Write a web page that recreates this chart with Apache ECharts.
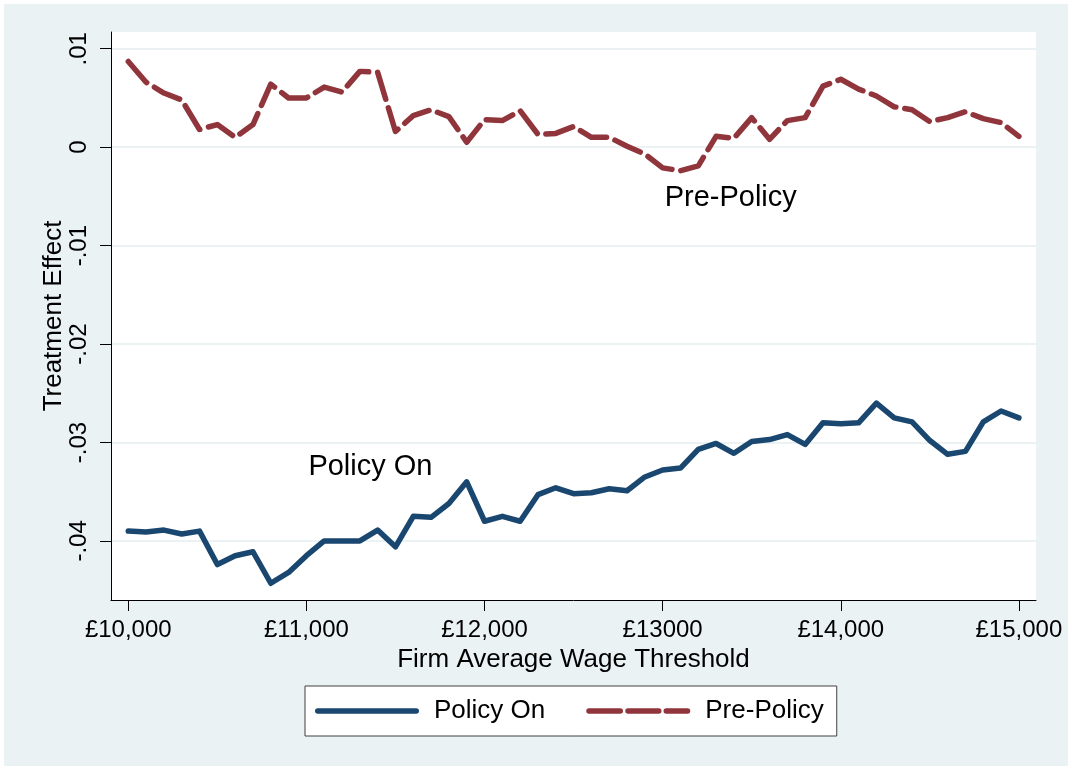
<!DOCTYPE html>
<html>
<head>
<meta charset="utf-8">
<title>Treatment Effect by Firm Average Wage Threshold</title>
<script src="https://cdn.jsdelivr.net/npm/echarts@6/dist/echarts.min.js"></script>
<style>
    html, body {
        margin: 0;
        padding: 0;
        background: #ffffff;
    }
    #chart {
        position: absolute;
        left: 4px;
        top: 4px;
        width: 1064px;
        height: 762px;
    }
</style>
</head>
<body>
<div id="chart"></div>
<script>
    // wage thresholds (x)
    var thresholds = [10000, 10100, 10200, 10300, 10400, 10500, 10600, 10700, 10800, 10900,
        11000, 11100, 11200, 11300, 11400, 11500, 11600, 11700, 11800, 11900,
        12000, 12100, 12200, 12300, 12400, 12500, 12600, 12700, 12800, 12900,
        13000, 13100, 13200, 13300, 13400, 13500, 13600, 13700, 13800, 13900,
        14000, 14100, 14200, 14300, 14400, 14500, 14600, 14700, 14800, 14900, 15000];

    var policyOn = [-0.0390, -0.0391, -0.0389, -0.0393, -0.0390, -0.0424, -0.0415, -0.0411, -0.0443, -0.0432,
        -0.0415, -0.0400, -0.0400, -0.0400, -0.0389, -0.0406, -0.0375, -0.0376, -0.0362, -0.0340,
        -0.0380, -0.0375, -0.0380, -0.0353, -0.0346, -0.0352, -0.0351, -0.0347, -0.0349, -0.0335,
        -0.0328, -0.0326, -0.0307, -0.0301, -0.0311, -0.0299, -0.0297, -0.0292, -0.0302, -0.0280,
        -0.0281, -0.0280, -0.0260, -0.0275, -0.0279, -0.0298, -0.0312, -0.0309, -0.0279, -0.0268, -0.0275];

    var prePolicy = [0.0087, 0.0066, 0.0055, 0.0048, 0.0018, 0.0023, 0.0010, 0.0023, 0.0064, 0.0050,
        0.0050, 0.0061, 0.0056, 0.0077, 0.0076, 0.0016, 0.0032, 0.0038, 0.0031, 0.0005,
        0.0028, 0.0027, 0.0037, 0.0013, 0.0014, 0.0021, 0.0010, 0.0010, 0.0001, -0.0007,
        -0.0021, -0.0024, -0.0019, 0.0011, 0.0009, 0.0030, 0.0008, 0.0027, 0.0030, 0.0062,
        0.0069, 0.0059, 0.0052, 0.0041, 0.0038, 0.0026, 0.0030, 0.0036, 0.0029, 0.0025, 0.0011];

    // tick values and labels
    var xTicks = [10000, 11000, 12000, 13000, 14000, 15000];
    var xTickLabels = ["£10,000", "£11,000", "£12,000", "£13000", "£14,000", "£15,000"];
    var yTicks = [-0.04, -0.03, -0.02, -0.01, 0, 0.01];
    var yTickLabels = ["-.04", "-.03", "-.02", "-.01", "0", ".01"];

    // text placed in the plot, in data coordinates
    var notes = [
        { text: "Policy On", x: 11000, y: -0.0325 },
        { text: "Pre-Policy", x: 13000, y: -0.0052 }
    ];

    var FONT = "'Liberation Sans', Arial, Helvetica, sans-serif";
    var NAVY = "#1a476f";
    var MAROON = "#90353b";
    var BLUISH = "#eaf2f3";

    // legend keys: one solid bar, three rounded dashes
    var solidKey = "path://M2.75,0H101.25A2.75,2.75 0 0 1 101.25,5.5H2.75A2.75,2.75 0 0 1 2.75,0Z";
    var dashKey = "path://M2.75,0H34A2.75,2.75 0 0 1 34,5.5H2.75A2.75,2.75 0 0 1 2.75,0Z" +
        "M41.75,0H72.5A2.75,2.75 0 0 1 72.5,5.5H41.75A2.75,2.75 0 0 1 41.75,0Z" +
        "M80,0H101.25A2.75,2.75 0 0 1 101.25,5.5H80A2.75,2.75 0 0 1 80,0Z";

    function pairs(ys) {
        return thresholds.map(function (x, i) { return [x, ys[i]]; });
    }

    function lookup(ticks, labels, v) {
        for (var i = 0; i < ticks.length; i++) {
            if (Math.abs(ticks[i] - v) < 1e-9) return labels[i];
        }
        return "";
    }

    function note(n) {
        return {
            coord: [n.x, n.y],
            symbol: "circle",
            symbolSize: 0,
            label: {
                show: true,
                position: "right",
                distance: 2,
                formatter: n.text,
                color: "#000",
                fontSize: 29,
                fontFamily: FONT
            }
        };
    }

    var myChart = echarts.init(document.getElementById("chart"));

    var option = {
        backgroundColor: BLUISH,
        animation: false,
        grid: {
            left: 107,
            top: 28,
            right: 32,
            bottom: 166,
            show: true,
            backgroundColor: "#ffffff",
            borderWidth: 0
        },
        legend: {
            left: 301,
            top: 682,
            orient: "horizontal",
            backgroundColor: "#ffffff",
            borderColor: "#404040",
            borderWidth: 1,
            padding: [12, 13, 12, 10],
            itemWidth: 104,
            itemHeight: 26,
            itemGap: 41,
            symbolKeepAspect: true,
            textStyle: {
                fontSize: 26,
                fontFamily: FONT,
                color: "#000",
                padding: [0, 0, 0, 10]
            },
            data: [
                { name: "Policy On", icon: solidKey },
                { name: "Pre-Policy", icon: dashKey }
            ]
        },
        xAxis: {
            type: "value",
            min: 9903,
            max: 15096,
            name: "Firm Average Wage Threshold",
            nameLocation: "middle",
            nameGap: 47,
            nameMoveOverlap: false,
            nameTextStyle: { fontSize: 26, fontFamily: FONT, color: "#000" },
            axisLine: { show: true, onZero: false, lineStyle: { color: "#000", width: 1 } },
            axisTick: { show: true, length: 11, customValues: xTicks, lineStyle: { color: "#000" } },
            axisLabel: {
                customValues: xTicks,
                margin: 18,
                fontSize: 24,
                fontFamily: FONT,
                color: "#000",
                formatter: function (v) { return lookup(xTicks, xTickLabels, v); }
            },
            splitLine: { show: false }
        },
        yAxis: {
            type: "value",
            min: -0.046,
            max: 0.0117,
            name: "Treatment Effect",
            nameLocation: "middle",
            nameGap: 44,
            nameMoveOverlap: false,
            nameTextStyle: { fontSize: 26, fontFamily: FONT, color: "#000" },
            axisLine: { show: true, onZero: false, lineStyle: { color: "#000", width: 1 } },
            axisTick: { show: true, length: 11, customValues: yTicks, lineStyle: { color: "#000" } },
            axisLabel: {
                customValues: yTicks,
                rotate: 90,
                margin: 20,
                fontSize: 24,
                fontFamily: FONT,
                color: "#000",
                formatter: function (v) { return lookup(yTicks, yTickLabels, v); }
            },
            splitLine: { show: true, lineStyle: { color: BLUISH, width: 2 } }
        },
        series: [
            {
                name: "Policy On",
                type: "line",
                data: pairs(policyOn),
                symbol: "none",
                color: NAVY,
                lineStyle: { color: NAVY, width: 5.5, cap: "round", join: "round" },
                markPoint: { silent: true, data: [note(notes[0])] }
            },
            {
                name: "Pre-Policy",
                type: "line",
                data: pairs(prePolicy),
                symbol: "none",
                color: MAROON,
                lineStyle: { color: MAROON, width: 5.5, type: [28, 9], cap: "round", join: "round" },
                markPoint: { silent: true, data: [note(notes[1])] }
            }
        ]
    };
    myChart.setOption(option);
</script>
</body>
</html>
